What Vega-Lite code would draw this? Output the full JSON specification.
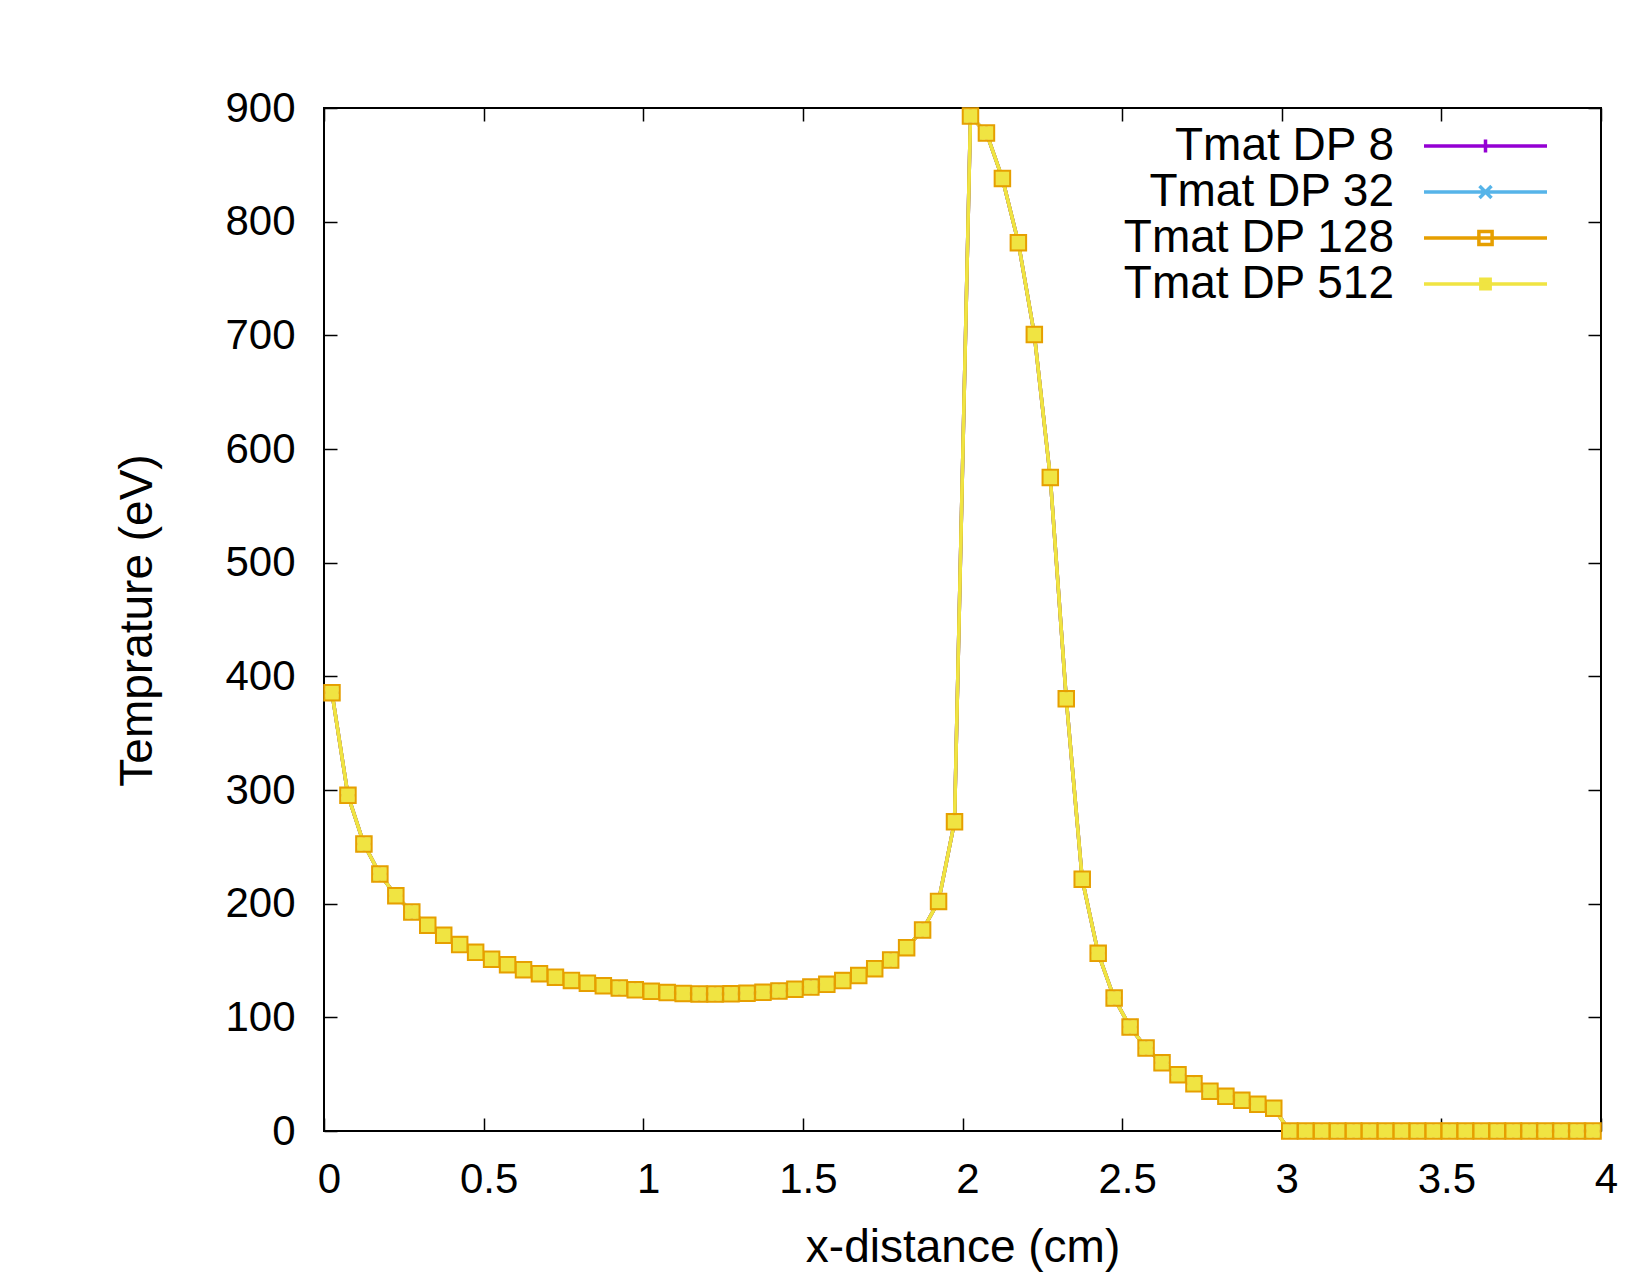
{
  "$schema": "https://vega.github.io/schema/vega-lite/v6.json",
  "width": 1277,
  "height": 1023,
  "autosize": {"type": "none"},
  "padding": {"left": 324, "top": 108, "right": 49, "bottom": 144},
  "background": "white",
  "config": {"view": {"stroke": "black", "strokeWidth": 2}, "font": "Liberation Sans"},
  "data": {"values": [
    {"x": 0.025, "t8": 385.6, "t32": 385.6, "t128": 385.6, "t512": 385.6},
    {"x": 0.075, "t8": 295.3, "t32": 295.3, "t128": 295.3, "t512": 295.3},
    {"x": 0.125, "t8": 252.5, "t32": 252.5, "t128": 252.5, "t512": 252.5},
    {"x": 0.175, "t8": 226.1, "t32": 226.1, "t128": 226.1, "t512": 226.1},
    {"x": 0.225, "t8": 207.0, "t32": 207.0, "t128": 207.0, "t512": 207.0},
    {"x": 0.275, "t8": 192.7, "t32": 192.7, "t128": 192.7, "t512": 192.7},
    {"x": 0.325, "t8": 181.0, "t32": 181.0, "t128": 181.0, "t512": 181.0},
    {"x": 0.375, "t8": 172.2, "t32": 172.2, "t128": 172.2, "t512": 172.2},
    {"x": 0.425, "t8": 164.0, "t32": 164.0, "t128": 164.0, "t512": 164.0},
    {"x": 0.475, "t8": 157.2, "t32": 157.2, "t128": 157.2, "t512": 157.2},
    {"x": 0.525, "t8": 151.1, "t32": 151.1, "t128": 151.1, "t512": 151.1},
    {"x": 0.575, "t8": 146.3, "t32": 146.3, "t128": 146.3, "t512": 146.3},
    {"x": 0.625, "t8": 141.9, "t32": 141.9, "t128": 141.9, "t512": 141.9},
    {"x": 0.675, "t8": 138.4, "t32": 138.4, "t128": 138.4, "t512": 138.4},
    {"x": 0.725, "t8": 135.3, "t32": 135.3, "t128": 135.3, "t512": 135.3},
    {"x": 0.775, "t8": 132.5, "t32": 132.5, "t128": 132.5, "t512": 132.5},
    {"x": 0.825, "t8": 130.0, "t32": 130.0, "t128": 130.0, "t512": 130.0},
    {"x": 0.875, "t8": 127.8, "t32": 127.8, "t128": 127.8, "t512": 127.8},
    {"x": 0.925, "t8": 125.8, "t32": 125.8, "t128": 125.8, "t512": 125.8},
    {"x": 0.975, "t8": 124.2, "t32": 124.2, "t128": 124.2, "t512": 124.2},
    {"x": 1.025, "t8": 122.9, "t32": 122.9, "t128": 122.9, "t512": 122.9},
    {"x": 1.075, "t8": 121.8, "t32": 121.8, "t128": 121.8, "t512": 121.8},
    {"x": 1.125, "t8": 121.0, "t32": 121.0, "t128": 121.0, "t512": 121.0},
    {"x": 1.175, "t8": 120.6, "t32": 120.6, "t128": 120.6, "t512": 120.6},
    {"x": 1.225, "t8": 120.5, "t32": 120.5, "t128": 120.5, "t512": 120.5},
    {"x": 1.275, "t8": 120.7, "t32": 120.7, "t128": 120.7, "t512": 120.7},
    {"x": 1.325, "t8": 121.2, "t32": 121.2, "t128": 121.2, "t512": 121.2},
    {"x": 1.375, "t8": 122.0, "t32": 122.0, "t128": 122.0, "t512": 122.0},
    {"x": 1.425, "t8": 123.2, "t32": 123.2, "t128": 123.2, "t512": 123.2},
    {"x": 1.475, "t8": 124.7, "t32": 124.7, "t128": 124.7, "t512": 124.7},
    {"x": 1.525, "t8": 126.6, "t32": 126.6, "t128": 126.6, "t512": 126.6},
    {"x": 1.575, "t8": 129.0, "t32": 129.0, "t128": 129.0, "t512": 129.0},
    {"x": 1.625, "t8": 132.3, "t32": 132.3, "t128": 132.3, "t512": 132.3},
    {"x": 1.675, "t8": 136.8, "t32": 136.8, "t128": 136.8, "t512": 136.8},
    {"x": 1.725, "t8": 142.8, "t32": 142.8, "t128": 142.8, "t512": 142.8},
    {"x": 1.775, "t8": 150.4, "t32": 150.4, "t128": 150.4, "t512": 150.4},
    {"x": 1.825, "t8": 161.3, "t32": 161.3, "t128": 161.3, "t512": 161.3},
    {"x": 1.875, "t8": 176.8, "t32": 176.8, "t128": 176.8, "t512": 176.8},
    {"x": 1.925, "t8": 202.0, "t32": 202.0, "t128": 202.0, "t512": 202.0},
    {"x": 1.975, "t8": 272.0, "t32": 272.0, "t128": 272.0, "t512": 272.0},
    {"x": 2.025, "t8": 893.0, "t32": 893.0, "t128": 893.0, "t512": 893.0},
    {"x": 2.075, "t8": 878.0, "t32": 878.0, "t128": 878.0, "t512": 878.0},
    {"x": 2.125, "t8": 838.0, "t32": 838.0, "t128": 838.0, "t512": 838.0},
    {"x": 2.175, "t8": 781.5, "t32": 781.5, "t128": 781.5, "t512": 781.5},
    {"x": 2.225, "t8": 700.7, "t32": 700.7, "t128": 700.7, "t512": 700.7},
    {"x": 2.275, "t8": 575.0, "t32": 575.0, "t128": 575.0, "t512": 575.0},
    {"x": 2.325, "t8": 380.2, "t32": 380.2, "t128": 380.2, "t512": 380.2},
    {"x": 2.375, "t8": 221.5, "t32": 221.5, "t128": 221.5, "t512": 221.5},
    {"x": 2.425, "t8": 156.3, "t32": 156.3, "t128": 156.3, "t512": 156.3},
    {"x": 2.475, "t8": 117.0, "t32": 117.0, "t128": 117.0, "t512": 117.0},
    {"x": 2.525, "t8": 91.5, "t32": 91.5, "t128": 91.5, "t512": 91.5},
    {"x": 2.575, "t8": 73.0, "t32": 73.0, "t128": 73.0, "t512": 73.0},
    {"x": 2.625, "t8": 60.0, "t32": 60.0, "t128": 60.0, "t512": 60.0},
    {"x": 2.675, "t8": 49.5, "t32": 49.5, "t128": 49.5, "t512": 49.5},
    {"x": 2.725, "t8": 41.5, "t32": 41.5, "t128": 41.5, "t512": 41.5},
    {"x": 2.775, "t8": 35.0, "t32": 35.0, "t128": 35.0, "t512": 35.0},
    {"x": 2.825, "t8": 30.5, "t32": 30.5, "t128": 30.5, "t512": 30.5},
    {"x": 2.875, "t8": 27.0, "t32": 27.0, "t128": 27.0, "t512": 27.0},
    {"x": 2.925, "t8": 23.5, "t32": 23.5, "t128": 23.5, "t512": 23.5},
    {"x": 2.975, "t8": 20.0, "t32": 20.0, "t128": 20.0, "t512": 20.0},
    {"x": 3.025, "t8": 0, "t32": 0, "t128": 0, "t512": 0},
    {"x": 3.075, "t8": 0, "t32": 0, "t128": 0, "t512": 0},
    {"x": 3.125, "t8": 0, "t32": 0, "t128": 0, "t512": 0},
    {"x": 3.175, "t8": 0, "t32": 0, "t128": 0, "t512": 0},
    {"x": 3.225, "t8": 0, "t32": 0, "t128": 0, "t512": 0},
    {"x": 3.275, "t8": 0, "t32": 0, "t128": 0, "t512": 0},
    {"x": 3.325, "t8": 0, "t32": 0, "t128": 0, "t512": 0},
    {"x": 3.375, "t8": 0, "t32": 0, "t128": 0, "t512": 0},
    {"x": 3.425, "t8": 0, "t32": 0, "t128": 0, "t512": 0},
    {"x": 3.475, "t8": 0, "t32": 0, "t128": 0, "t512": 0},
    {"x": 3.525, "t8": 0, "t32": 0, "t128": 0, "t512": 0},
    {"x": 3.575, "t8": 0, "t32": 0, "t128": 0, "t512": 0},
    {"x": 3.625, "t8": 0, "t32": 0, "t128": 0, "t512": 0},
    {"x": 3.675, "t8": 0, "t32": 0, "t128": 0, "t512": 0},
    {"x": 3.725, "t8": 0, "t32": 0, "t128": 0, "t512": 0},
    {"x": 3.775, "t8": 0, "t32": 0, "t128": 0, "t512": 0},
    {"x": 3.825, "t8": 0, "t32": 0, "t128": 0, "t512": 0},
    {"x": 3.875, "t8": 0, "t32": 0, "t128": 0, "t512": 0},
    {"x": 3.925, "t8": 0, "t32": 0, "t128": 0, "t512": 0},
    {"x": 3.975, "t8": 0, "t32": 0, "t128": 0, "t512": 0}
  ]},
  "transform": [{"fold": ["t8", "t32", "t128", "t512"], "as": ["series", "T"]}],
  "resolve": {"axis": {"x": "independent", "y": "independent"}},
  "layer": [
    {
      "mark": {"type": "line", "strokeWidth": 3.5},
      "encoding": {
        "x": {"field": "x", "type": "quantitative", "scale": {"domain": [0, 4], "nice": false},
          "axis": {"orient": "bottom", "values": [0, 0.5, 1, 1.5, 2, 2.5, 3, 3.5, 4], "format": "~g",
            "labelFont": "Liberation Sans", "labelFontSize": 42, "labelColor": "black", "labelPadding": 41.5, "labelFlush": false, "labelOffset": 5,
            "tickSize": -13, "tickColor": "black", "tickWidth": 1.5, "domain": false, "grid": false,
            "title": "x-distance (cm)", "titleFont": "Liberation Sans", "titleFontSize": 46, "titleFontWeight": "normal", "titleColor": "black",
            "titleBaseline": "alphabetic", "titleY": 130}},
        "y": {"field": "T", "type": "quantitative", "scale": {"domain": [0, 900], "nice": false},
          "axis": {"orient": "left", "values": [0, 100, 200, 300, 400, 500, 600, 700, 800, 900], "format": "d",
            "labelFont": "Liberation Sans", "labelFontSize": 42, "labelColor": "black", "labelPadding": 42, "labelFlush": false,
            "tickSize": -13, "tickColor": "black", "tickWidth": 1.5, "domain": false, "grid": false,
            "title": "Temprature (eV)", "titleFont": "Liberation Sans", "titleFontSize": 46, "titleFontWeight": "normal", "titleColor": "black",
            "titleBaseline": "alphabetic", "titleX": -173, "titleY": 512, "titleAngle": -90, "titleAlign": "center"}},
        "color": {"field": "series", "type": "nominal",
          "scale": {"domain": ["t8", "t32", "t128", "t512"], "range": ["#9400d3", "#56b4e9", "#e69f00", "#f0e442"]},
          "legend": {"orient": "none", "legendX": 1138.5, "legendY": 15, "title": null, "padding": 0, "rowPadding": 0,
            "symbolSize": 225, "symbolStrokeWidth": 3.5, "symbolOffset": 0,
            "labelFont": "Liberation Sans", "labelFontSize": 46, "labelColor": "black", "labelAlign": "right", "labelOffset": -114.5, "labelLimit": 0,
            "labelExpr": "'Tmat DP ' + slice(datum.value, 1)",
            "encode": {"symbols": {"update": {
              "shape": {"signal": "datum.value === 't8' ? 'M-8.2,0H8.2M0,-0.87V0.87' : datum.value === 't32' ? 'M-8.2,0H8.2M-0.8,-0.8L0.8,0.8M-0.8,0.8L0.8,-0.8' : datum.value === 't128' ? 'M-8.2,0H8.2M-0.88,-0.88H0.88V0.88H-0.88Z' : 'M-8.2,0H8.2M-0.62,-0.62H0.62V0.62H-0.62Z'"},
              "fill": {"signal": "datum.value === 't512' ? '#f0e442' : 'transparent'"},
              "fillOpacity": {"value": 1},
              "opacity": {"value": 1}
            }}}}
        }
      }
    },
    {
      "transform": [{"filter": {"field": "series", "oneOf": ["t8", "t32", "t128"]}}],
      "mark": {"type": "point", "filled": false, "strokeWidth": 2.5, "opacity": 1},
      "encoding": {
        "x": {"field": "x", "type": "quantitative",
          "axis": {"orient": "top", "values": [0, 0.5, 1, 1.5, 2, 2.5, 3, 3.5, 4], "labels": false, "title": null,
            "tickSize": -13, "tickColor": "black", "tickWidth": 1.5, "domain": false, "grid": false}},
        "y": {"field": "T", "type": "quantitative",
          "axis": {"orient": "right", "values": [0, 100, 200, 300, 400, 500, 600, 700, 800, 900], "labels": false, "title": null,
            "tickSize": -13, "tickColor": "black", "tickWidth": 1.5, "domain": false, "grid": false}},
        "color": {"field": "series", "type": "nominal", "legend": null},
        "shape": {"field": "series", "type": "nominal",
          "scale": {"domain": ["t8", "t32", "t128"], "range": ["M-1,0H1M0,-1V1", "M-1,-1L1,1M-1,1L1,-1", "square"]},
          "legend": null},
        "size": {"value": 225}
      }
    },
    {
      "transform": [{"filter": {"field": "series", "equal": "t512"}}],
      "mark": {"type": "square", "size": 182, "color": "#f0e442", "opacity": 1},
      "encoding": {
        "x": {"field": "x", "type": "quantitative", "axis": null},
        "y": {"field": "T", "type": "quantitative", "axis": null}
      }
    }
  ]
}
